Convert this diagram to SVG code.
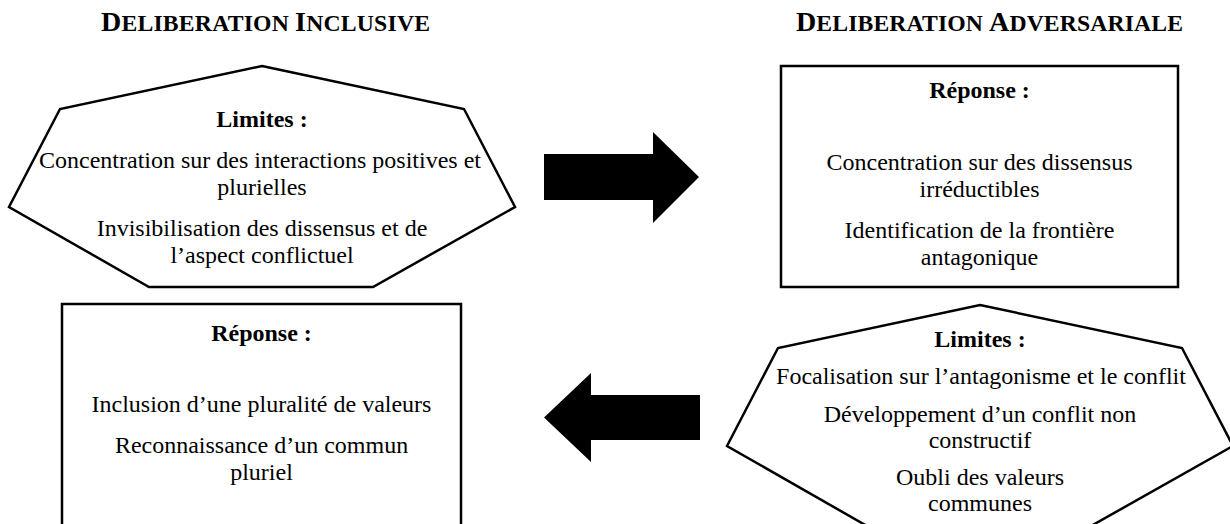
<svg xmlns="http://www.w3.org/2000/svg" width="1230" height="524" viewBox="0 0 1230 524">
<style>
.t{font-family:"Liberation Serif","Times New Roman",serif;font-size:24px;fill:#000;text-anchor:middle}
.b{font-weight:bold}
.title{font-family:"Liberation Serif","Times New Roman",serif;font-weight:bold;fill:#000}
.big{font-size:28px}
.sm{font-size:23.7px}
.shape{fill:#fff;stroke:#000;stroke-width:2.5;stroke-linejoin:miter}
.arrow{fill:#000;stroke:none}
</style>
<rect x="0" y="0" width="1230" height="524" fill="#fff"/>

<g id="title-inclusive">
<text class="title" x="101" y="31" textLength="329" lengthAdjust="spacing"><tspan class="big">D</tspan><tspan class="sm">ELIBERATION </tspan><tspan class="big">I</tspan><tspan class="sm">NCLUSIVE</tspan></text>
</g>
<g id="title-adversariale">
<text class="title" x="796" y="31" textLength="387" lengthAdjust="spacing"><tspan class="big">D</tspan><tspan class="sm">ELIBERATION </tspan><tspan class="big">A</tspan><tspan class="sm">DVERSARIALE</tspan></text>
</g>

<g id="limites-inclusive">
<polygon class="shape" points="262,66 464,109 515,207 373,287 149,287 9,207 60,109"/>
<text class="t b" x="262" y="127">Limites :</text>
<text class="t" x="260" y="168">Concentration sur des interactions positives et</text>
<text class="t" x="262" y="195">plurielles</text>
<text class="t" x="262" y="236">Invisibilisation des dissensus et de</text>
<text class="t" x="262" y="263">l’aspect conflictuel</text>
</g>

<g id="reponse-adversariale">
<rect class="shape" x="781" y="66" width="397" height="221"/>
<text class="t b" x="979.5" y="98">Réponse :</text>
<text class="t" x="979.5" y="170">Concentration sur des dissensus</text>
<text class="t" x="979.5" y="197">irréductibles</text>
<text class="t" x="979.5" y="238">Identification de la frontière</text>
<text class="t" x="979.5" y="265">antagonique</text>
</g>

<g id="reponse-inclusive">
<rect class="shape" x="62" y="304" width="399" height="240"/>
<text class="t b" x="261.5" y="341">Réponse :</text>
<text class="t" x="261.5" y="412">Inclusion d’une pluralité de valeurs</text>
<text class="t" x="261.5" y="453">Reconnaissance d’un commun</text>
<text class="t" x="261.5" y="480">pluriel</text>
</g>

<g id="limites-adversariale">
<polygon class="shape" points="980,305 1182,348 1233,446 1091,526 867,526 727,446 778,348"/>
<text class="t b" x="980" y="347">Limites :</text>
<text class="t" x="981" y="384">Focalisation sur l’antagonisme et le conflit</text>
<text class="t" x="980" y="422">Développement d’un conflit non</text>
<text class="t" x="980" y="448">constructif</text>
<text class="t" x="980" y="485">Oubli des valeurs</text>
<text class="t" x="980" y="511">communes</text>
</g>

<g id="connectors">
<polygon class="arrow" points="544,154 653,154 653,132 699,177 653,223 653,200 544,200"/>
<polygon class="arrow" points="700,395 591,395 591,373 544,417.5 591,462 591,440 700,440"/>
</g>
</svg>
